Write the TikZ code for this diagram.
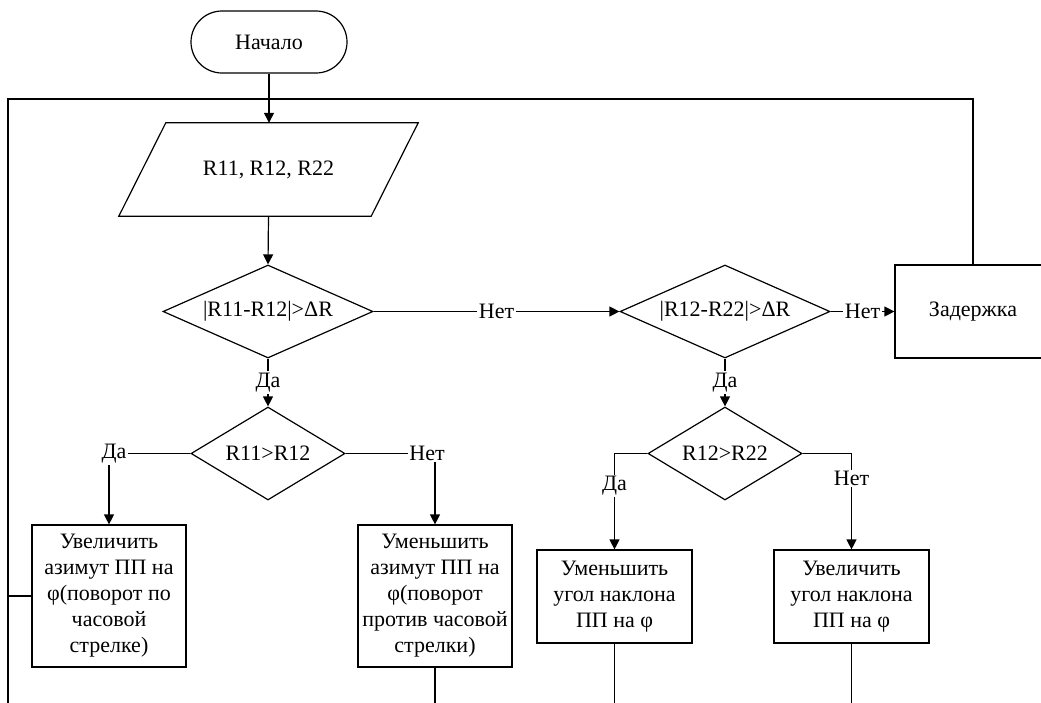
\documentclass[tikz,border=0pt]{standalone}
\usepackage{fontspec}
\setmainfont{Liberation Serif}
\usetikzlibrary{shapes.geometric,arrows.meta}

\begin{document}
\begin{tikzpicture}[x=1pt,y=-1pt,
  every node/.style={font=\fontsize{22}{26}\selectfont},
  line/.style={line width=1.2pt},
  loopline/.style={line width=1.6pt},
  arr/.style={line, -{Triangle[length=10pt,width=10pt]}},
  term/.style={draw, line width=1.2pt, rounded corners=31pt,
    minimum width=156pt, minimum height=62pt},
  proc/.style={draw, line width=1.2pt, rectangle, align=center, inner sep=2pt},
  dec/.style={draw, line width=1.2pt, diamond, inner sep=1pt},
  lbl/.style={fill=white, inner sep=1.5pt},
]
\useasboundingbox (0,0) rectangle (1041,702);
\clip (0,0) rectangle (1041,702);

% blocks
\node[term] (start) at (269,42) {Начало};
\node[minimum width=252pt, minimum height=93pt, inner sep=0pt] (inp) at (268.5,169.5) {R11, R12, R22};
\draw[line] ([xshift=23.5pt]inp.north west) -- ([xshift=23.5pt]inp.north east)
  -- ([xshift=-23.5pt]inp.south east) -- ([xshift=-23.5pt]inp.south west) -- cycle;

\node[dec, aspect=2.258, minimum width=210pt, minimum height=93pt] (d1) at (268,311.5) {|R11-R12|>ΔR};
\node[dec, aspect=1.656, minimum width=154pt, minimum height=93pt] (d2) at (268,453.5) {R11>R12};
\node[dec, aspect=2.258, minimum width=210pt, minimum height=93pt] (d3) at (725,311.5) {|R12-R22|>ΔR};
\node[dec, aspect=1.656, minimum width=154pt, minimum height=93pt] (d4) at (725,453.5) {R12>R22};

\node[proc, minimum width=156pt, minimum height=93pt] (delay) at (973,311.5) {Задержка};

\node[proc, minimum width=154pt, minimum height=142pt] (L1) at (109,596)
  {Увеличить\\азимут ПП на\\φ(поворот по\\часовой\\стрелке)};
\node[proc, minimum width=154pt, minimum height=142pt] (L2) at (435,596)
  {Уменьшить\\азимут ПП на\\φ(поворот\\против часовой\\стрелки)};
\node[proc, minimum width=155pt, minimum height=93pt] (R1) at (614.5,596.5)
  {Уменьшить\\угол наклона\\ПП на φ};
\node[proc, minimum width=155pt, minimum height=93pt] (R2) at (851.5,596.5)
  {Увеличить\\угол наклона\\ПП на φ};

% loop-back points
\coordinate (loopTL) at (8,99);
\coordinate (loopBL) at (8,720);

% connectors
\draw[arr] (start.south) -- (start.south |- inp.north);
\draw[arr] (inp.south) -- (d1.north);
\draw[arr] (d1.south) -- node[lbl]{Да} (d2.north);
\draw[arr] (d1.east) -- node[lbl]{Нет} (d3.west);
\draw[arr] (d3.south) -- node[lbl]{Да} (d4.north);
\draw[arr] (d3.east) -- node[lbl]{Нет} (delay.west);
\draw[arr] (d2.west) -| node[lbl, pos=0.5, xshift=5pt]{Да} (L1.north);
\draw[arr] (d2.east) -| node[lbl, pos=0.5, xshift=-8pt]{Нет} (L2.north);
\draw[arr] (d4.west) -| node[lbl, pos=0.67]{Да} (R1.north);
\draw[arr] (d4.east) -| node[lbl, pos=0.63]{Нет} (R2.north);

% return path
\draw[loopline] (delay.north) |- (loopTL) -- (loopBL);
\draw[line] (L1.west) -- (L1.west -| loopTL);
\draw[line] (L2.south) -- (L2.south |- loopBL);
\draw[line] (R1.south) -- (R1.south |- loopBL);
\draw[line] (R2.south) -- (R2.south |- loopBL);
\end{tikzpicture}
\end{document}
